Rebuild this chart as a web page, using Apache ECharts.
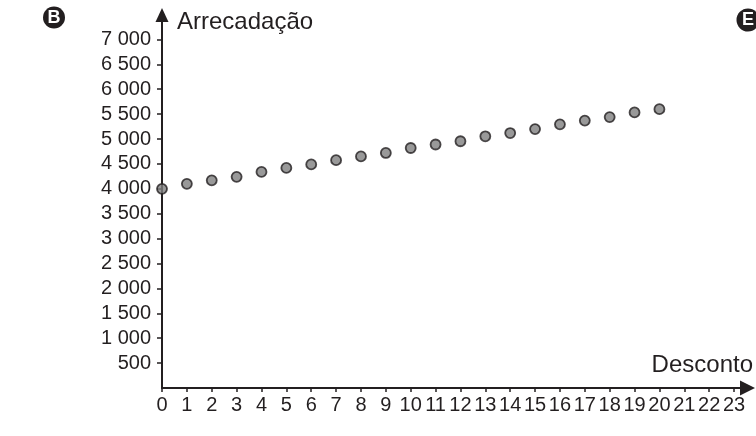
<!DOCTYPE html>
<html>
<head>
<meta charset="utf-8">
<script src="https://cdn.jsdelivr.net/npm/echarts@6/dist/echarts.min.js"></script>
<style>
  html, body { margin: 0; padding: 0; background: #fff; }
  #main { width: 756px; height: 436px; }
</style>
</head>
<body>
<div id="main"></div>
<script>
// desconto (x) e arrecadação (y)
var desconto = [0, 1, 2, 3, 4, 5, 6, 7, 8, 9, 10, 11, 12, 13, 14, 15, 16, 17, 18, 19, 20];
var arrecadacao = [4000, 4100, 4170, 4240, 4340, 4420, 4490, 4575, 4650, 4720,
                   4820, 4890, 4955, 5055, 5120, 5200, 5295, 5370, 5440, 5535, 5600];

var xTicks = [0, 1, 2, 3, 4, 5, 6, 7, 8, 9, 10, 11, 12, 13, 14, 15, 16, 17, 18, 19, 20, 21, 22, 23];
var yTicks = [500, 1000, 1500, 2000, 2500, 3000, 3500, 4000, 4500, 5000, 5500, 6000, 6500, 7000];

var ink = '#231f20';
var font = '"Liberation Sans", Arial, sans-serif';

var points = desconto.map(function (d, i) { return [d, arrecadacao[i]]; });

var myChart = echarts.init(document.getElementById('main'));

var option = {
    backgroundColor: '#fff',
    animation: false,
    grid: { left: 162, right: 16, top: 22, bottom: 48 },
    xAxis: {
        type: 'value',
        min: 0,
        max: 23.24,
        name: 'Desconto',
        nameLocation: 'end',
        nameGap: 13,
        nameTextStyle: {
            color: ink, fontFamily: font, fontSize: 24,
            align: 'right', verticalAlign: 'bottom', padding: [0, 0, 11, 0]
        },
        splitLine: { show: false },
        axisLine: {
            lineStyle: { color: ink, width: 2 },
            symbol: ['none', 'triangle'],
            symbolSize: [15, 15],
            symbolOffset: [0, 7.5]
        },
        axisTick: {
            customValues: xTicks,
            length: 4,
            lineStyle: { color: ink, width: 1.5 }
        },
        axisLabel: {
            customValues: xTicks,
            color: ink, fontFamily: font, fontSize: 20,
            margin: 7
        }
    },
    yAxis: {
        type: 'value',
        min: 0,
        max: 7350,
        name: 'Arrecadação',
        nameLocation: 'end',
        nameGap: 0,
        nameTextStyle: {
            color: ink, fontFamily: font, fontSize: 24,
            align: 'left', verticalAlign: 'middle', padding: [0, 0, 0, 15]
        },
        splitLine: { show: false },
        axisLine: {
            lineStyle: { color: ink, width: 2 },
            symbol: ['none', 'triangle'],
            symbolSize: [13, 14],
            symbolOffset: [0, 7]
        },
        axisTick: {
            customValues: yTicks,
            length: 5,
            lineStyle: { color: ink, width: 1.5 }
        },
        axisLabel: {
            customValues: yTicks,
            color: ink, fontFamily: font, fontSize: 20,
            margin: 11,
            formatter: function (v) {
                var s = String(v);
                return s.length > 3 ? s.slice(0, s.length - 3) + ' ' + s.slice(-3) : s;
            }
        }
    },
    series: [
        {
            type: 'scatter',
            data: points,
            symbol: 'circle',
            symbolSize: 10,
            itemStyle: { color: '#7f7f7f', borderColor: ink, borderWidth: 1.8 }
        }
    ],
    graphic: [
        { type: 'circle', shape: { cx: 54, cy: 17.5, r: 11 }, style: { fill: ink } },
        {
            type: 'text', x: 54, y: 18,
            style: { text: 'B', fill: '#fff', font: 'bold 18px ' + font, align: 'center', verticalAlign: 'middle' }
        },
        { type: 'circle', shape: { cx: 748, cy: 20, r: 11.5 }, style: { fill: ink } },
        {
            type: 'text', x: 748, y: 20.5,
            style: { text: 'E', fill: '#fff', font: 'bold 18px ' + font, align: 'center', verticalAlign: 'middle' }
        }
    ]
};
myChart.setOption(option);
</script>
</body>
</html>
